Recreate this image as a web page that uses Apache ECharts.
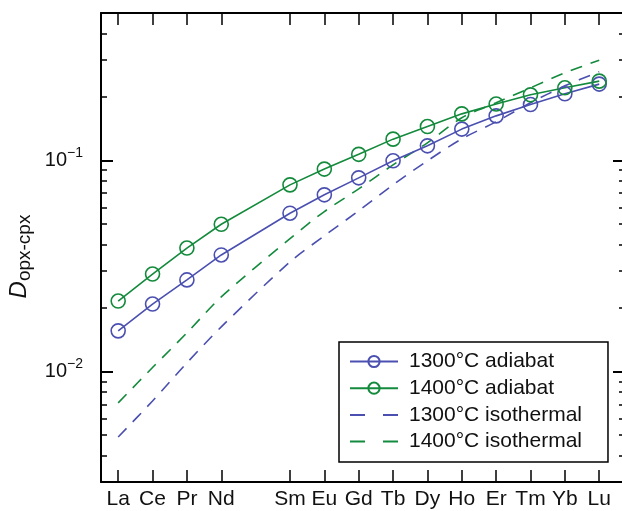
<!DOCTYPE html>
<html>
<head>
<meta charset="utf-8">
<script src="https://cdn.jsdelivr.net/npm/echarts@6/dist/echarts.min.js"></script>
<style>
  html, body { margin: 0; padding: 0; background: #fff; }
  #chart { width: 622px; height: 511px; }
</style>
</head>
<body>
<div id="chart"></div>
<script>
// Rare earth elements, placed by atomic number (Pm is skipped)
const elements = ['La', 'Ce', 'Pr', 'Nd', 'Sm', 'Eu', 'Gd', 'Tb', 'Dy', 'Ho', 'Er', 'Tm', 'Yb', 'Lu'];
const atomicNumbers = [57, 58, 59, 60, 62, 63, 64, 65, 66, 67, 68, 69, 70, 71];

// Opx/cpx partition coefficients
const adiabat1300 = [0.0156, 0.0209, 0.0272, 0.0357, 0.0563, 0.0688, 0.0828, 0.0997, 0.1174, 0.1409, 0.1628, 0.1842, 0.2071, 0.2302];
const adiabat1400 = [0.0216, 0.0290, 0.0385, 0.0499, 0.0767, 0.0911, 0.1070, 0.1263, 0.1449, 0.1664, 0.1852, 0.2048, 0.2211, 0.2378];
const isothermal1300 = [0.00490, 0.00726, 0.0110, 0.0163, 0.0331, 0.0440, 0.0578, 0.0767, 0.0997, 0.1267, 0.1526, 0.1877, 0.2259, 0.2633];
const isothermal1400 = [0.00711, 0.01046, 0.01526, 0.02259, 0.04265, 0.05733, 0.0734, 0.0954, 0.1213, 0.1594, 0.1877, 0.2211, 0.2603, 0.2985];

// Log-axis ticks
const majorTicks = [0.01, 0.1];
const minorTicks = [0.004, 0.005, 0.006, 0.007, 0.008, 0.009,
                    0.02, 0.03, 0.04, 0.05, 0.06, 0.07, 0.08, 0.09,
                    0.2, 0.3, 0.4];

const BLUE = '#4b50b0';
const GREEN = '#138a3c';
const FONT = '"Liberation Sans", Arial, Helvetica, sans-serif';

const pairs = vals => atomicNumbers.map((z, i) => [z, vals[i]]);

const xBase = {
  type: 'value', min: 56.5, max: 71.75,
  splitLine: { show: false },
  axisLine: { show: true, lineStyle: { color: '#000', width: 2 } }
};
const yBase = {
  type: 'log', logBase: 10, min: 0.003, max: 0.5,
  splitLine: { show: false }, minorTick: { show: false }
};

// dashed entries in the legend show only the line
const noMarker = { color: 'rgba(0,0,0,0)', borderWidth: 0 };

const chart = echarts.init(document.getElementById('chart'), null, { renderer: 'canvas' });

chart.setOption({
  animation: false,
  backgroundColor: '#fff',
  grid: { left: 101, top: 13, width: 524, height: 469, containLabel: false, outerBoundsMode: 'none' },
  xAxis: [
    Object.assign({}, xBase, {
      position: 'bottom',
      axisTick: { show: true, inside: true, length: 12, customValues: atomicNumbers,
                  lineStyle: { color: '#000', width: 1.5 } },
      axisLabel: { show: true, customValues: atomicNumbers, margin: 7,
                   fontFamily: FONT, fontSize: 21, color: '#111',
                   formatter: v => elements[atomicNumbers.indexOf(v)] }
    }),
    Object.assign({}, xBase, {
      position: 'top',
      axisTick: { show: true, inside: true, length: 12, customValues: atomicNumbers,
                  lineStyle: { color: '#000', width: 1.5 } },
      axisLabel: { show: false }
    })
  ],
  yAxis: [
    Object.assign({}, yBase, {
      position: 'left',
      axisLine: { show: true, lineStyle: { color: '#000', width: 2 } },
      axisTick: { show: true, inside: true, length: 12, customValues: majorTicks,
                  lineStyle: { color: '#000', width: 2 } },
      axisLabel: {
        show: true, customValues: majorTicks, margin: 18,
        formatter: v => '{b|10}{s|−' + Math.round(-Math.log10(v)) + '}',
        rich: {
          b: { fontFamily: FONT, fontSize: 20, color: '#111', lineHeight: 28 },
          s: { fontFamily: FONT, fontSize: 14, color: '#111', lineHeight: 15, verticalAlign: 'top' }
        }
      },
      name: '{d|D}{s|opx-cpx}',
      nameLocation: 'middle', nameRotate: 90, nameGap: 59,
      nameTextStyle: {
        padding: [0, 18, 0, 0],
        rich: {
          d: { fontFamily: FONT, fontSize: 24, fontStyle: 'italic', color: '#111', lineHeight: 30 },
          s: { fontFamily: FONT, fontSize: 19, color: '#111', lineHeight: 19, verticalAlign: 'bottom' }
        }
      }
    }),
    Object.assign({}, yBase, {
      position: 'left',
      axisLine: { show: false },
      axisTick: { show: true, inside: true, length: 6, customValues: minorTicks,
                  lineStyle: { color: '#000', width: 1.5 } },
      axisLabel: { show: false }
    }),
    Object.assign({}, yBase, {
      position: 'right',
      axisLine: { show: true, lineStyle: { color: '#000', width: 2 } },
      axisTick: { show: true, inside: true, length: 12, customValues: majorTicks,
                  lineStyle: { color: '#000', width: 2 } },
      axisLabel: { show: false }
    }),
    Object.assign({}, yBase, {
      position: 'right',
      axisLine: { show: false },
      axisTick: { show: true, inside: true, length: 6, customValues: minorTicks,
                  lineStyle: { color: '#000', width: 1.5 } },
      axisLabel: { show: false }
    })
  ],
  legend: {
    orient: 'vertical', left: 339, top: 342,
    padding: [9, 26, 10, 10],
    itemWidth: 48, itemHeight: 14, itemGap: 5.7,
    borderColor: '#000', borderWidth: 1.5,
    backgroundColor: '#fff',
    textStyle: { fontFamily: FONT, fontSize: 21, color: '#111', lineHeight: 21, padding: [0, 0, 0, 6] },
    data: [
      { name: '1300°C adiabat' },
      { name: '1400°C adiabat' },
      { name: '1300°C isothermal', lineStyle: { type: [15, 18] }, itemStyle: noMarker },
      { name: '1400°C isothermal', lineStyle: { type: [15, 18] }, itemStyle: noMarker }
    ]
  },
  series: [
    {
      name: '1300°C isothermal', type: 'line', data: pairs(isothermal1300),
      smooth: 0.3, showSymbol: false, symbol: 'none',
      lineStyle: { color: BLUE, width: 1.6, type: [12, 9] }, itemStyle: { color: BLUE }
    },
    {
      name: '1400°C isothermal', type: 'line', data: pairs(isothermal1400),
      smooth: 0.3, showSymbol: false, symbol: 'none',
      lineStyle: { color: GREEN, width: 1.6, type: [12, 9] }, itemStyle: { color: GREEN }
    },
    {
      name: '1300°C adiabat', type: 'line', data: pairs(adiabat1300),
      symbol: 'circle', symbolSize: 14,
      lineStyle: { color: BLUE, width: 1.6 },
      itemStyle: { color: 'rgba(255,255,255,0)', borderColor: BLUE, borderWidth: 1.6 }
    },
    {
      name: '1400°C adiabat', type: 'line', data: pairs(adiabat1400),
      symbol: 'circle', symbolSize: 14,
      lineStyle: { color: GREEN, width: 1.6 },
      itemStyle: { color: 'rgba(255,255,255,0)', borderColor: GREEN, borderWidth: 1.6 }
    }
  ]
});
</script>
</body>
</html>
